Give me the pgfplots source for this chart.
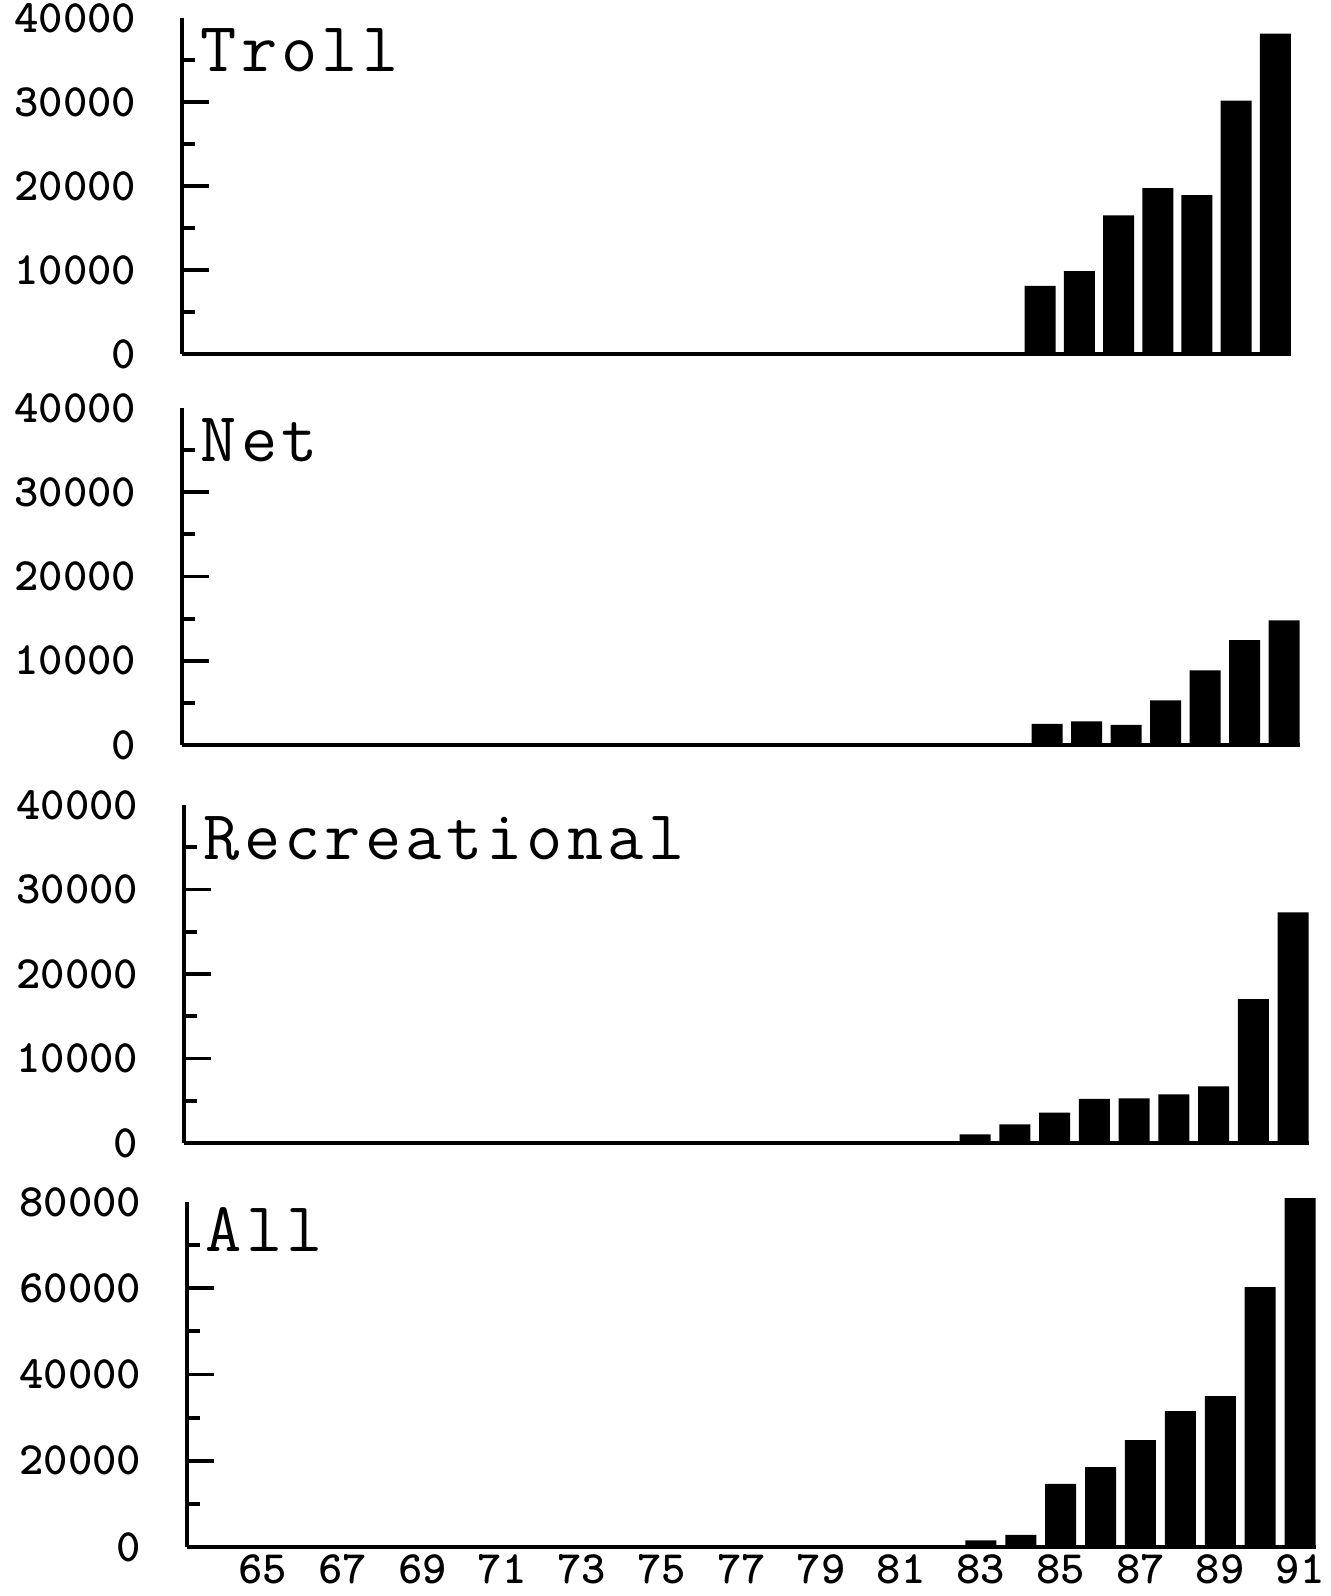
\documentclass[border=0pt]{standalone}
\usepackage{fontspec}
\usepackage{pgfplots}
\pgfplotsset{compat=1.18}

\newfontfamily\tickfont[Extension=.otf]{lmmonolt10-bold}
\newfontfamily\titlefont[Extension=.otf,LetterSpace=6]{lmmono12-regular}
\newcommand\tickfnt{\tickfont\fontsize{13.2}{14}\selectfont}
\newcommand\titlefnt{\titlefont\fontsize{20}{21}\selectfont}

\pgfplotsset{
  panel/.style={
    scale only axis, anchor=south west,
    xmin=63.1, xmax=91.4, ymin=0,
    axis x line*=bottom, axis y line*=left,
    axis line style={line width=0.9pt, -},
    tick align=inside,
    xtick=\empty,
    scaled y ticks=false,
    major tick length=0.27cm, minor tick length=0.13cm,
    every tick/.style={line width=1.1pt, black},
    yticklabel style={font=\tickfnt, anchor=east, inner sep=0pt, xshift=-0.45cm},
    extra y tick style={major tick length=0pt},
    clip=false,
    ybar, bar width=0.31cm,
  },
  forty/.style={
    ymax=40000,
    ytick={10000,20000,30000}, yticklabels={10000,20000,30000},
    minor ytick={5000,15000,25000,35000},
    extra y ticks={0,40000}, extra y tick labels={0,40000},
  },
}

\begin{document}
\begin{tikzpicture}
\path[use as bounding box] (0,0) rectangle (13.3,15.96);

% Troll
\begin{axis}[panel, forty, at={(1.82cm,12.42cm)}, width=11.09cm, height=3.36cm]
  \addplot[fill=black, draw=none] coordinates {
    (85,8100) (86,9850) (87,16500) (88,19750) (89,18900) (90,30150) (91,38150)};
  \node[anchor=base west, inner sep=0pt, font=\titlefnt, xshift=0.18cm, yshift=-0.54cm]
    at (rel axis cs:0,1) {Troll};
\end{axis}

% Net
\begin{axis}[panel, forty, at={(1.82cm,8.51cm)}, width=11.18cm, height=3.37cm]
  \addplot[fill=black, draw=none] coordinates {
    (85,2500) (86,2800) (87,2400) (88,5300) (89,8850) (90,12450) (91,14800)};
  \node[anchor=base west, inner sep=0pt, font=\titlefnt, xshift=0.18cm, yshift=-0.54cm]
    at (rel axis cs:0,1) {Net};
\end{axis}

% Recreational
\begin{axis}[panel, forty, at={(1.84cm,4.53cm)}, width=11.25cm, height=3.38cm]
  \addplot[fill=black, draw=none] coordinates {
    (83,1030) (84,2210) (85,3590) (86,5210) (87,5290) (88,5760) (89,6710) (90,17040) (91,27300)};
  \node[anchor=base west, inner sep=0pt, font=\titlefnt, xshift=0.19cm, yshift=-0.54cm]
    at (rel axis cs:0,1) {Recreational};
\end{axis}

% All
\begin{axis}[panel, at={(1.87cm,0.49cm)}, width=11.29cm, height=3.45cm,
    ymax=80000,
    ytick={20000,40000,60000}, yticklabels={20000,40000,60000},
    minor ytick={10000,30000,50000,70000},
    extra y ticks={0,80000}, extra y tick labels={0,80000},
    xtick={65,67,69,71,73,75,77,79,81,83,85,87,89,91},
    xticklabels={65,67,69,71,73,75,77,79,81,83,85,87,89,91},
    xtick style={draw=none},
    xticklabel style={font=\tickfnt, anchor=north, inner sep=0pt, yshift=0.2cm}]
  \addplot[fill=black, draw=none] coordinates {
    (83,1560) (84,2800) (85,14630) (86,18510) (87,24810) (88,31500) (89,35000) (90,60280) (91,80900)};
  \node[anchor=base west, inner sep=0pt, font=\titlefnt, xshift=0.18cm, yshift=-0.49cm]
    at (rel axis cs:0,1) {All};
\end{axis}
\end{tikzpicture}
\end{document}
